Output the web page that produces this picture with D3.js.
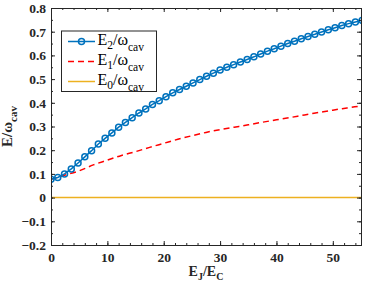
<!DOCTYPE html>
<html>
<head>
<meta charset="utf-8">
<script src="https://cdn.jsdelivr.net/npm/d3@7"></script>
<style>
 body{margin:0;background:#fff;}
</style>
</head>
<body>
<div id="chart"></div>
<script>
// E2 sampled every 1.2 (marker points), from 0 to 55.2
var e2Step = 1.2;
var e2Values = [0.077,0.085,0.100,0.121,0.146,0.172,0.198,0.226,0.250,0.273,
  0.297,0.317,0.337,0.357,0.374,0.393,0.409,0.426,0.442,0.456,
  0.470,0.484,0.498,0.512,0.525,0.538,0.550,0.561,0.572,0.583,
  0.594,0.606,0.618,0.628,0.639,0.650,0.660,0.670,0.680,0.689,
  0.699,0.708,0.717,0.726,0.734,0.741,0.748];
// E1 read every 2.5
var e1X = [0,2.5,5,7.5,10,12.5,15,17.5,20,22.5,25,27.5,30,32.5,35,37.5,40,42.5,45,47.5,50,52.5,55];
var e1Values = [0.077,0.095,0.113,0.138,0.158,0.178,0.194,0.212,0.229,0.246,0.261,0.275,0.287,0.297,0.307,0.318,0.328,0.338,0.349,0.359,0.369,0.378,0.387];
var e0X = [0,55];
var e0Values = [0,0];
var xTicks = [0,10,20,30,40,50];
var yTicks = [-0.2,-0.1,0,0.1,0.2,0.3,0.4,0.5,0.6,0.7,0.8];

var serif = "'Liberation Serif', 'Times New Roman', serif";

function init(){
    var w = 367, h = 287;
    var left = 51, right = 361, top = 8, bottom = 245;
    var svg = d3.select("#chart").append("svg")
        .attr("width", w).attr("height", h)
        .style("font-family", serif);

    var x = d3.scaleLinear().domain([0,55]).range([left,right]);
    var y = d3.scaleLinear().domain([-0.2,0.8]).range([bottom,top]);

    svg.append("clipPath").attr("id","clip")
        .append("rect").attr("x",left).attr("y",top)
        .attr("width",right-left).attr("height",bottom-top);

    var e2 = e2Values.map((v,i)=>[i*e2Step, v]);
    var e1 = e1Values.map((v,i)=>[e1X[i], v]);
    var e0 = e0Values.map((v,i)=>[e0X[i], v]);

    var line = d3.line().x(d=>x(d[0])).y(d=>y(d[1]));
    var plot = svg.append("g").attr("clip-path","url(#clip)");

    plot.append("path").datum(e0).attr("d",line)
        .attr("fill","none").attr("stroke","#EDB120").attr("stroke-width",1.5);
    plot.append("path").datum(e1).attr("d",line.curve(d3.curveMonotoneX))
        .attr("fill","none").attr("stroke","#FF0000").attr("stroke-width",1.5)
        .attr("stroke-dasharray","6,4");
    line.curve(d3.curveLinear);
    plot.append("path").datum(e2).attr("d",line)
        .attr("fill","none").attr("stroke","#0072BD").attr("stroke-width",1.5);
    plot.selectAll(".mk").data(e2).enter().append("circle")
        .attr("class","mk")
        .attr("cx",d=>x(d[0])).attr("cy",d=>y(d[1])).attr("r",3)
        .attr("fill","none").attr("stroke","#0072BD").attr("stroke-width",1.5);

    // axes, ticks pointing inward on all sides
    var minorX = d3.range(0,56,2), minorY = d3.range(-0.2,0.8001,0.05);
    function styleAxis(g){
        g.attr("font-family", serif);
        g.selectAll("path").attr("stroke","#262626").attr("stroke-width",1);
        g.selectAll("line").attr("stroke","#262626");
        g.selectAll("text").attr("fill","#262626")
            .style("font-family", serif)
            .style("font-size","13.5px").style("font-weight","bold");
    }
    svg.append("g").attr("transform","translate(0,"+bottom+")")
        .call(d3.axisBottom(x).tickValues(minorX).tickSize(-2).tickFormat(""))
        .call(styleAxis);
    svg.append("g").attr("transform","translate(0,"+top+")")
        .call(d3.axisTop(x).tickValues(minorX).tickSize(-2).tickFormat(""))
        .call(styleAxis);
    svg.append("g").attr("transform","translate("+left+",0)")
        .call(d3.axisLeft(y).tickValues(minorY).tickSize(-2).tickFormat(""))
        .call(styleAxis);
    svg.append("g").attr("transform","translate("+right+",0)")
        .call(d3.axisRight(y).tickValues(minorY).tickSize(-2).tickFormat(""))
        .call(styleAxis);

    svg.append("g").attr("transform","translate(0,"+bottom+")")
        .call(d3.axisBottom(x).tickValues(xTicks).tickSize(-4).tickPadding(7).tickSizeOuter(0))
        .call(styleAxis);
    svg.append("g").attr("transform","translate(0,"+top+")")
        .call(d3.axisTop(x).tickValues(xTicks).tickSize(-4).tickFormat("").tickSizeOuter(0))
        .call(styleAxis);
    svg.append("g").attr("transform","translate("+left+",0)")
        .call(d3.axisLeft(y).tickValues(yTicks).tickSize(-4).tickPadding(5).tickSizeOuter(0)
            .tickFormat(d=>d===0?"0":d3.format(".1f")(d)))
        .call(styleAxis);
    svg.append("g").attr("transform","translate("+right+",0)")
        .call(d3.axisRight(y).tickValues(yTicks).tickSize(-4).tickFormat("").tickSizeOuter(0))
        .call(styleAxis);

    // axis labels
    var xl = svg.append("text").attr("x",(left+right)/2).attr("y",276)
        .attr("text-anchor","middle").style("font-size","14px").style("font-weight","bold")
        .style("font-family", serif).attr("fill","#262626");
    xl.append("tspan").text("E");
    xl.append("tspan").attr("dy",4).style("font-size","10px").text("J");
    xl.append("tspan").attr("dy",-4).text("/E");
    xl.append("tspan").attr("dy",4).style("font-size","10px").text("C");

    var yl = svg.append("text")
        .attr("transform","translate(12,"+((top+bottom)/2)+") rotate(-90)")
        .attr("text-anchor","middle").style("font-size","15px").style("font-weight","bold")
        .style("font-family", serif).attr("fill","#262626");
    yl.append("tspan").text("E/ω");
    yl.append("tspan").attr("dy",5).style("font-size","11px").text("cav");

    // legend
    var lg = svg.append("g");
    lg.append("rect").attr("x",61.5).attr("y",31).attr("width",95).attr("height",60.5)
        .attr("fill","#fff").attr("stroke","#262626").attr("stroke-width",1);
    var items = [
        {sub:"2", color:"#0072BD", dash:null, marker:true},
        {sub:"1", color:"#FF0000", dash:"6,4", marker:false},
        {sub:"0", color:"#EDB120", dash:null, marker:false}
    ];
    items.forEach(function(it,i){
        var yy = 41.5 + i*20;
        lg.append("line").attr("x1",68).attr("x2",95).attr("y1",yy).attr("y2",yy)
            .attr("stroke",it.color).attr("stroke-width",1.5)
            .attr("stroke-dasharray",it.dash);
        if(it.marker){
            lg.append("circle").attr("cx",81.5).attr("cy",yy).attr("r",3)
                .attr("fill","none").attr("stroke",it.color).attr("stroke-width",1.5);
        }
        var t = lg.append("text").attr("x",97.5).attr("y",yy+3)
            .style("font-family", serif)
            .style("font-size","16px").attr("fill","#000");
        t.append("tspan").text("E");
        t.append("tspan").attr("dy",4).style("font-size","11.5px").text(it.sub);
        t.append("tspan").attr("dy",-4).text("/ω");
        t.append("tspan").attr("dy",6).style("font-size","11.5px").text("cav");
    });
}
window.onload = init;
</script>
</body>
</html>
